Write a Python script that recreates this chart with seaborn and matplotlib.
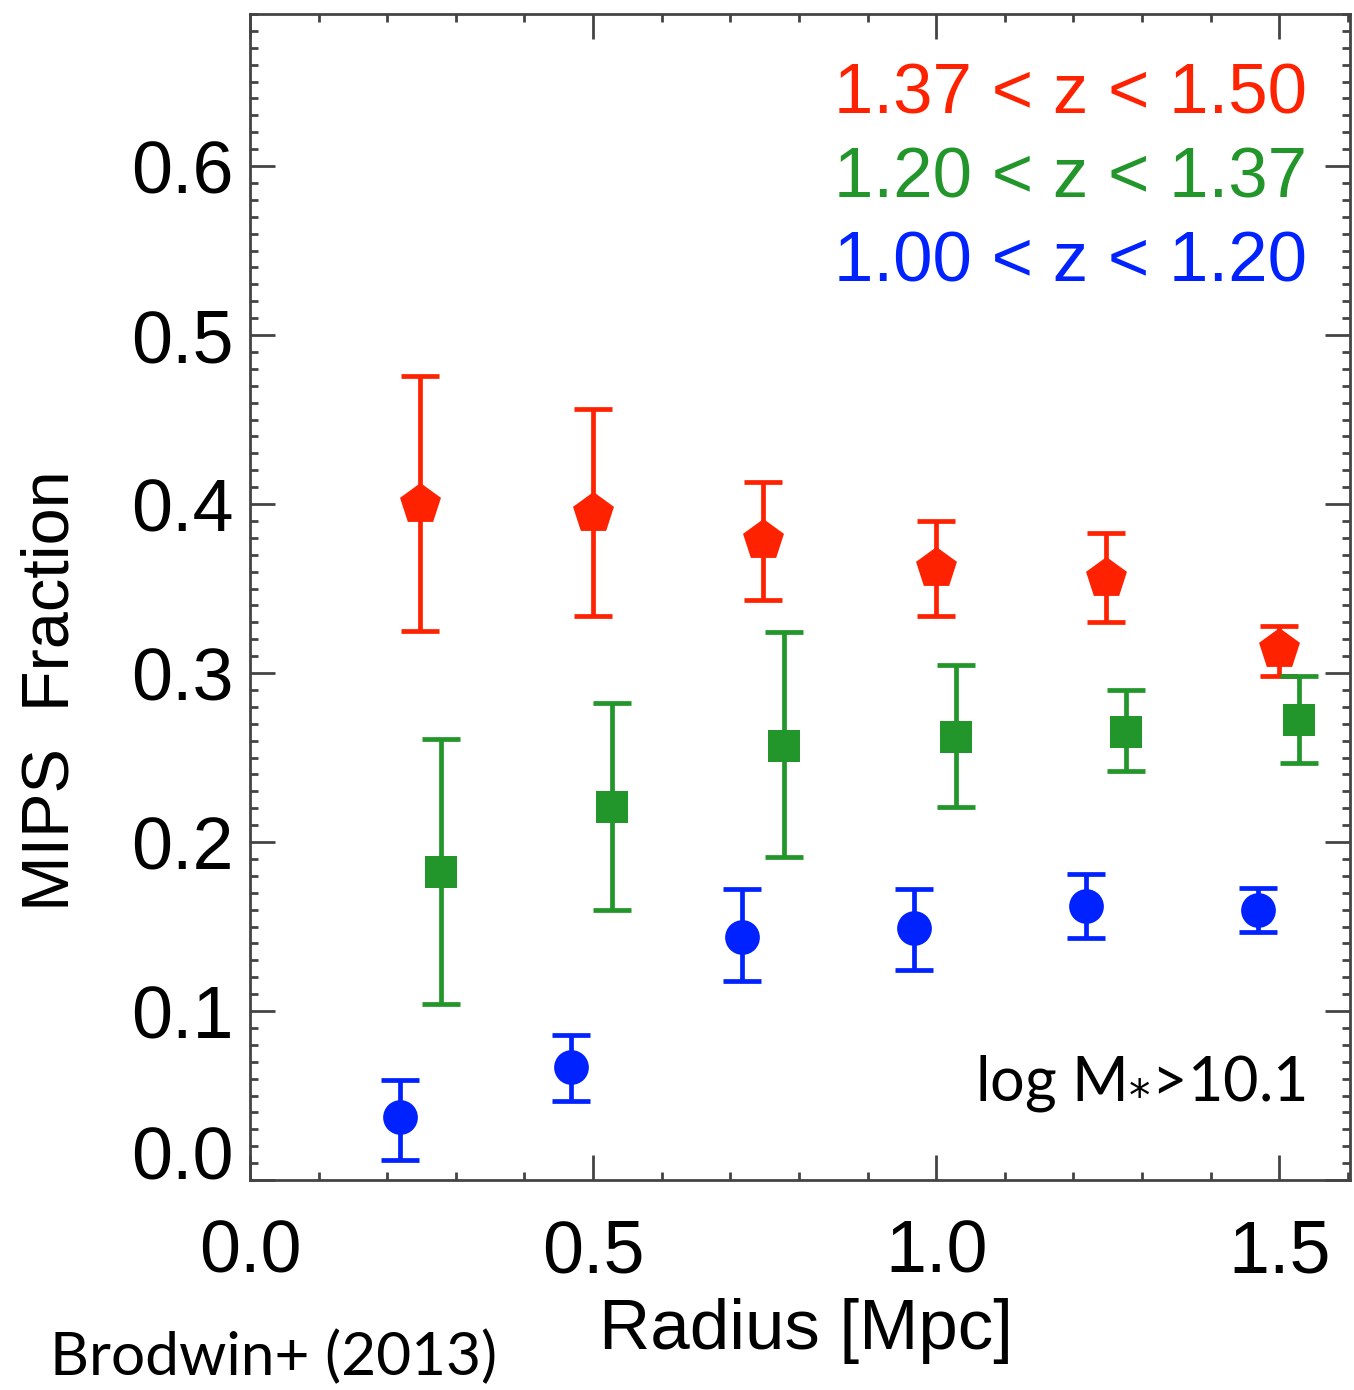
import numpy as np
import pandas as pd
import matplotlib
matplotlib.use("Agg")
import matplotlib.pyplot as plt
import seaborn as sns
from matplotlib.ticker import MultipleLocator

# ---- data ----
red_x = [0.248, 0.500, 0.748, 1.000, 1.248, 1.500]
red_y = [0.400, 0.395, 0.379, 0.362, 0.356, 0.314]
red_lo = [0.325, 0.334, 0.343, 0.334, 0.330, 0.298]
red_hi = [0.476, 0.456, 0.413, 0.390, 0.383, 0.328]

green_x = [0.278, 0.528, 0.778, 1.029, 1.277, 1.528]
green_y = [0.182, 0.221, 0.257, 0.262, 0.265, 0.272]
green_lo = [0.104, 0.160, 0.191, 0.221, 0.242, 0.247]
green_hi = [0.261, 0.282, 0.324, 0.305, 0.290, 0.298]

blue_x = [0.219, 0.468, 0.717, 0.968, 1.219, 1.469]
blue_y = [0.037, 0.067, 0.144, 0.149, 0.162, 0.160]
blue_lo = [0.012, 0.047, 0.118, 0.124, 0.143, 0.147]
blue_hi = [0.059, 0.086, 0.172, 0.172, 0.181, 0.173]

labels = ["1.37 < z < 1.50", "1.20 < z < 1.37", "1.00 < z < 1.20"]
x_ticks = [0.0, 0.5, 1.0, 1.5]
y_ticks = [0.0, 0.1, 0.2, 0.3, 0.4, 0.5, 0.6]

RED, GREEN, BLUE = "#ff2200", "#22962a", "#0022ff"

sns.set_style("ticks")
plt.rcParams["font.family"] = ["Liberation Sans", "DejaVu Sans"]
plt.rcParams["text.color"] = "black"
plt.rcParams["axes.labelcolor"] = "black"
plt.rcParams["xtick.labelcolor"] = "black"
plt.rcParams["ytick.labelcolor"] = "black"

fig = plt.figure(figsize=(13.54, 13.90), dpi=100)
ax = fig.add_axes([250/1354, 1 - 1180/1390, 1100/1354, 1166/1390])

series = [
    (red_x, red_y, red_lo, red_hi, RED, "p", 31),
    (green_x, green_y, green_lo, green_hi, GREEN, "s", 23),
    (blue_x, blue_y, blue_lo, blue_hi, BLUE, "o", 25),
]
for xs, ys, lo, hi, col, mk, ms in series:
    ys_a = np.array(ys)
    yerr = [ys_a - np.array(lo), np.array(hi) - ys_a]
    ax.errorbar(xs, ys, yerr=yerr, fmt="none", ecolor=col, elinewidth=3.4,
                capsize=14, capthick=3.4, zorder=2)
    df = pd.DataFrame({"x": xs, "y": ys})
    sns.scatterplot(data=df, x="x", y="y", ax=ax, marker=mk, s=ms**2,
                    color=col, edgecolor=col, linewidth=0, zorder=3, legend=False)

ax.set_xlim(0, 1.603)
ax.set_ylim(0, 0.69)
ax.set_xticks(x_ticks)
ax.set_xticklabels([f"{v:.1f}" for v in x_ticks])
ax.set_yticks(y_ticks)
ax.set_yticklabels([f"{v:.1f}" for v in y_ticks])
ax.xaxis.set_minor_locator(MultipleLocator(0.1))
ax.yaxis.set_minor_locator(MultipleLocator(0.01))
ax.tick_params(axis="both", which="major", direction="in", length=18, width=2,
               color="#444444", top=True, right=True, labelsize=53)
ax.tick_params(axis="both", which="minor", direction="in", length=6, width=2,
               color="#444444", top=True, right=True)
ax.tick_params(axis="x", which="major", pad=28)
ax.tick_params(axis="y", which="major", pad=12)
ax.get_yticklabels()[0].set_verticalalignment("baseline")
for sp in ax.spines.values():
    sp.set_visible(True)
    sp.set_linewidth(2)
    sp.set_color("#444444")

ax.set_xlabel("Radius [Mpc]", fontsize=51)
ax.set_ylabel("MIPS  Fraction", fontsize=48)
ax.xaxis.set_label_coords(0.505, -0.101)
ax.yaxis.set_label_coords(-0.152, 0.42)

for i, (lab, col) in enumerate(zip(labels, [RED, GREEN, BLUE])):
    ax.text(0.961, 0.93 - i * 0.072, lab, transform=ax.transAxes, color=col,
            fontsize=51, ha="right", va="center")

ax.text(0.96, 0.083, "log M$_{*}$>10.1", transform=ax.transAxes, fontsize=44,
        ha="right", va="center", family=["Lato", "DejaVu Sans"])
fig.text(50/1354, 1 - 1357/1390, "Brodwin+ (2013)", fontsize=43.5,
         ha="left", va="center", family=["Lato", "DejaVu Sans"])

fig.savefig("out.png", dpi=100)
